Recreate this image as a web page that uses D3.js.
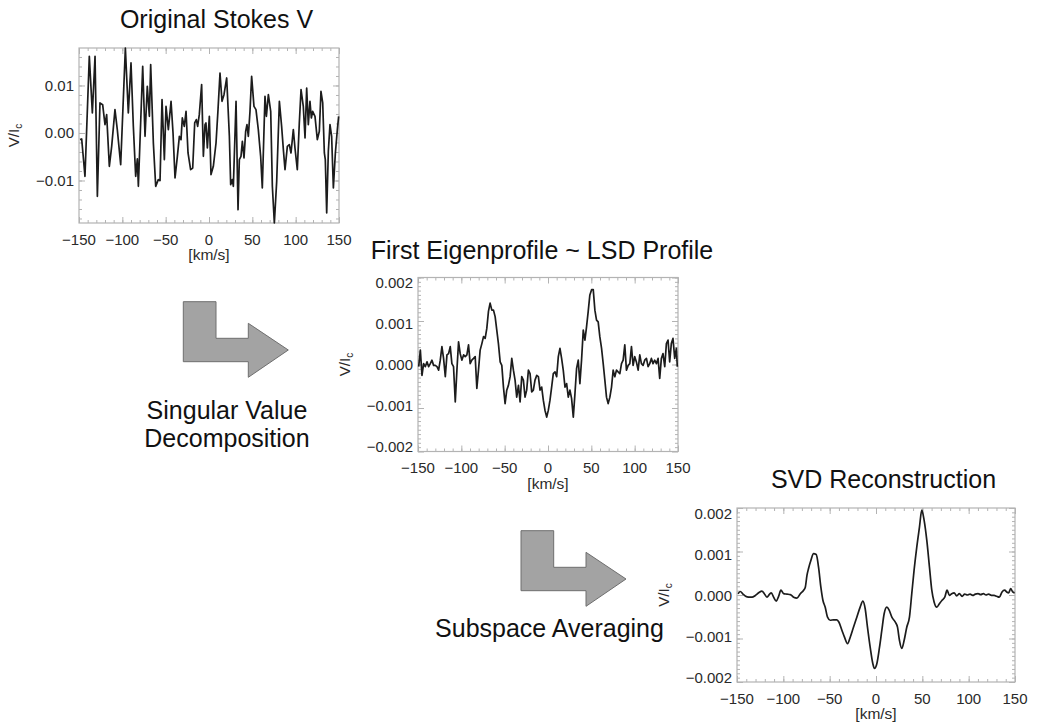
<!DOCTYPE html>
<html>
<head>
<meta charset="utf-8">
<script src="https://cdn.jsdelivr.net/npm/d3@7"></script>
<style>
  html, body { margin: 0; padding: 0; background: #ffffff; }
  svg { display: block; font-family: "Liberation Sans", Arial, Helvetica, sans-serif; }
</style>
</head>
<body>
<svg id="chart" width="1037" height="728"></svg>
<script>
// ---------- data ----------
// Velocity axis shared by all three panels (km/s)
const velocityRange = [-150, 150];
const velocityTicks = [-150, -100, -50, 0, 50, 100, 150];

// Panel 1: original (noisy) Stokes V profile
const stokesVel = [-148.8,-146.9,-143.1,-138.1,-134.6,-131.5,-128.8,-125.8,-122.7,-120.0,-118.1,-115.0,-112.3,-108.5,-105.8,-101.9,-96.5,-93.1,-90.0,-87.3,-84.6,-82.7,-81.5,-76.5,-73.8,-71.2,-68.8,-67.3,-64.2,-61.5,-58.5,-56.5,-54.2,-51.5,-49.6,-46.9,-43.8,-41.5,-39.2,-36.5,-34.2,-32.3,-30.8,-28.5,-26.5,-24.2,-21.2,-18.8,-16.5,-14.6,-13.1,-11.2,-8.5,-6.5,-4.6,-3.5,-1.9,0.4,2.3,5.0,8.1,10.4,12.7,15.0,17.3,20.4,23.5,25.0,26.9,28.1,31.2,33.5,35.0,36.9,38.5,40.4,42.3,43.8,45.4,47.3,49.2,51.9,54.2,56.9,59.6,61.5,64.6,66.2,68.5,71.2,73.1,75.4,78.1,81.2,83.8,85.8,87.7,90.4,92.7,94.6,97.3,99.2,101.9,104.2,106.2,108.8,110.8,112.7,114.6,116.5,118.1,119.6,122.3,125.0,127.3,129.2,131.2,133.1,134.2,135.8,137.7,139.6,141.5,143.5,145.8,148.1,149.6];
const stokesV = [-1.40e-3,-1.26e-3,-9.12e-3,16.14e-3,4.21e-3,16.14e-3,-13.33e-3,6.32e-3,5.96e-3,1.75e-3,3.86e-3,-7.02e-3,-2.81e-3,4.91e-3,0.70e-3,-6.67e-3,17.89e-3,4.21e-3,14.74e-3,1.40e-3,-9.12e-3,-5.47e-3,-11.23e-3,14.04e-3,-0.70e-3,9.82e-3,3.51e-3,14.39e-3,-2.11e-3,-11.23e-3,-9.82e-3,-10.04e-3,7.02e-3,-5.61e-3,5.61e-3,0.70e-3,6.67e-3,0,-9.47e-3,-4.91e-3,-0.70e-3,-1.40e-3,3.16e-3,1.40e-3,4.56e-3,-4.21e-3,-7.72e-3,-7.37e-3,2.11e-3,2.81e-3,1.40e-3,3.86e-3,10.18e-3,-4.91e-3,1.75e-3,2.11e-3,-3.16e-3,3.51e-3,-8.77e-3,-7.02e-3,-2.11e-3,4.91e-3,12.63e-3,6.67e-3,8.07e-3,11.58e-3,-0.70e-3,-10.88e-3,-9.82e-3,-11.23e-3,6.67e-3,-16.14e-3,-5.61e-3,-4.91e-3,-1.75e-3,-5.26e-3,0.35e-3,1.75e-3,-0.70e-3,4.56e-3,11.93e-3,5.61e-3,4.91e-3,0.70e-3,-4.91e-3,-11.58e-3,7.72e-3,3.51e-3,8.07e-3,4.56e-3,-11.23e-3,-18.95e-3,-10.18e-3,6.67e-3,1.40e-3,-3.51e-3,-7.72e-3,-2.81e-3,-2.46e-3,-4.21e-3,0.70e-3,-3.16e-3,-7.72e-3,2.11e-3,9.12e-3,5.61e-3,-1.05e-3,9.47e-3,1.75e-3,6.67e-3,3.16e-3,4.56e-3,3.51e-3,-1.40e-3,0.35e-3,8.77e-3,6.32e-3,-4.21e-3,-5.61e-3,-16.84e-3,-3.86e-3,1.75e-3,-0.70e-3,-11.58e-3,-4.21e-3,0.70e-3,3.51e-3];
const stokesTicks = [-0.01, 0, 0.01];

// Panel 2: first eigenprofile (~ LSD profile)
const eigenVel = [-149.2,-147.3,-145.4,-143.5,-141.6,-139.6,-137.7,-135.8,-133.9,-132.0,-130.1,-128.1,-126.2,-124.3,-122.4,-120.5,-118.5,-116.6,-114.7,-112.8,-110.9,-109.0,-107.0,-105.1,-103.2,-101.3,-99.4,-97.4,-95.5,-93.6,-91.7,-89.8,-87.9,-85.9,-84.0,-82.1,-80.2,-78.3,-76.3,-74.4,-72.5,-70.6,-68.7,-66.8,-64.8,-62.9,-61.0,-59.1,-57.2,-55.2,-53.3,-51.4,-49.5,-47.6,-45.7,-43.7,-41.8,-39.9,-38.0,-36.1,-34.1,-32.2,-30.3,-28.4,-26.5,-24.6,-22.6,-20.7,-18.8,-16.9,-15.0,-13.0,-11.1,-9.2,-7.3,-5.4,-3.5,-1.5,0.4,2.3,4.2,6.1,8.1,10.0,11.9,13.8,15.7,17.6,19.6,21.5,23.4,25.3,27.2,29.2,31.1,33.0,34.9,36.8,38.7,40.7,42.6,44.5,46.4,48.3,50.3,52.2,54.1,56.0,57.9,59.8,61.8,63.7,65.6,67.5,69.4,71.4,73.3,75.2,77.1,79.0,80.9,82.9,84.8,86.7,88.6,90.5,92.5,94.4,96.3,98.2,100.1,102.0,104.0,105.9,107.8,109.7,111.6,113.6,115.5,117.4,119.3,121.2,123.1,125.1,127.0,128.9,130.8,132.7,134.7,136.6,138.5,140.4,142.3,144.2,146.2,148.1,149.2];
const eigenV = [-0.05e-3,0.33e-3,-0.25e-3,0.02e-3,-0.05e-3,0.06e-3,-0.05e-3,0.02e-3,0.10e-3,-0.02e-3,
  -0.02e-3,-0.05e-3,-0.13e-3,0.10e-3,0.41e-3,0.14e-3,-0.28e-3,0.22e-3,0.25e-3,0.41e-3,
  0.02e-3,-0.05e-3,-0.86e-3,-0.13e-3,0.52e-3,0.25e-3,0.10e-3,0.22e-3,0.18e-3,0.22e-3,
  0.45e-3,0.02e-3,0.10e-3,0.14e-3,0.18e-3,-0.55e-3,-0.13e-3,0.33e-3,0.48e-3,0.64e-3,
  0.60e-3,0.83e-3,1.22e-3,1.41e-3,1.25e-3,1.25e-3,1.10e-3,0.79e-3,0.48e-3,0.06e-3,
  -0.02e-3,-0.52e-3,-0.90e-3,-0.59e-3,-0.48e-3,-0.28e-3,0.14e-3,-0.13e-3,-0.36e-3,-0.75e-3,
  -0.48e-3,-0.86e-3,-0.28e-3,-0.36e-3,-0.75e-3,-0.59e-3,-0.13e-3,-0.21e-3,-0.63e-3,-0.59e-3,
  -0.36e-3,-0.25e-3,-0.28e-3,-0.59e-3,-0.52e-3,-0.82e-3,-1.05e-3,-1.21e-3,-1.05e-3,-0.82e-3,
  -0.52e-3,-0.21e-3,-0.17e-3,-0.28e-3,0.18e-3,0.37e-3,0.14e-3,-0.13e-3,-0.52e-3,-0.44e-3,
  -0.75e-3,-0.59e-3,-0.78e-3,-1.21e-3,-0.67e-3,-0.09e-3,0.10e-3,-0.44e-3,0.10e-3,0.79e-3,
  0.56e-3,0.87e-3,1.22e-3,1.60e-3,1.72e-3,1.72e-3,1.25e-3,1.02e-3,0.98e-3,0.64e-3,
  0.37e-3,0.02e-3,-0.36e-3,-0.75e-3,-0.90e-3,-0.75e-3,-0.52e-3,-0.13e-3,-0.28e-3,-0.13e-3,
  -0.17e-3,-0.21e-3,0.02e-3,0.10e-3,0.45e-3,-0.13e-3,-0.02e-3,0.02e-3,0.41e-3,-0.02e-3,
  0.18e-3,0.06e-3,-0.13e-3,0.22e-3,0.02e-3,-0.02e-3,0.10e-3,0.14e-3,-0.05e-3,0.02e-3,
  0.14e-3,0.02e-3,0.10e-3,0.02e-3,0.14e-3,-0.32e-3,0.14e-3,0.25e-3,-0.05e-3,0.48e-3,
  0.56e-3,0.06e-3,0.48e-3,0.60e-3,0.14e-3,0.37e-3,-0.05e-3];

// Panel 3: SVD reconstruction
const svdVel = [-148.9,-146.4,-143.5,-140.7,-137.4,-133.8,-130.2,-126.6,-123.1,-120.5,-117.7,-114.8,-113.0,-110.5,-107.6,-105.1,-102.6,-99.7,-96.1,-92.5,-88.9,-85.3,-81.7,-78.1,-76.3,-74.5,-72.8,-70.2,-67.4,-64.5,-62.0,-59.5,-57.3,-54.8,-52.3,-49.4,-45.8,-42.2,-40.1,-36.8,-34.0,-30.7,-27.8,-24.3,-20.7,-17.1,-14.2,-11.7,-9.2,-6.3,-3.4,-1.6,0.9,3.8,6.3,8.8,11.7,14.2,17.1,20.7,23.2,25.3,27.8,30.4,33.2,36.1,38.6,41.1,44.0,46.9,49.4,51.9,54.8,57.7,60.2,62.7,65.6,68.4,71.3,74.2,76.7,79.2,81.7,84.3,87.1,90.0,92.9,95.7,98.6,101.5,104.4,107.2,110.1,113.0,115.9,118.7,121.6,124.5,127.4,130.2,133.1,136.0,138.9,141.0,143.2,145.3,147.5,149.6];
const svdV = [0.03e-3,0.08e-3,0.02e-3,-0.03e-3,-0.05e-3,-0.05e-3,-0.01e-3,0.05e-3,0.09e-3,0.03e-3,-0.05e-3,0.02e-3,0.05e-3,-0.05e-3,-0.14e-3,-0.03e-3,0.11e-3,0.03e-3,0.02e-3,0.01e-3,-0.05e-3,-0.07e-3,0.03e-3,0.11e-3,0.18e-3,0.45e-3,0.61e-3,0.80e-3,0.95e-3,0.93e-3,0.64e-3,0.18e-3,-0.12e-3,-0.28e-3,-0.51e-3,-0.58e-3,-0.57e-3,-0.57e-3,-0.62e-3,-0.81e-3,-0.97e-3,-1.12e-3,-0.97e-3,-0.74e-3,-0.51e-3,-0.28e-3,-0.14e-3,-0.31e-3,-0.74e-3,-1.20e-3,-1.58e-3,-1.69e-3,-1.58e-3,-1.20e-3,-0.81e-3,-0.43e-3,-0.28e-3,-0.35e-3,-0.51e-3,-0.62e-3,-0.74e-3,-1.04e-3,-1.23e-3,-1.04e-3,-0.74e-3,-0.51e-3,0.03e-3,0.57e-3,1.10e-3,1.56e-3,1.95e-3,1.72e-3,1.26e-3,0.64e-3,0.11e-3,-0.16e-3,-0.28e-3,-0.20e-3,-0.12e-3,-0.05e-3,0.11e-3,-0.01e-3,0.03e-3,0.05e-3,-0.02e-3,0.03e-3,-0.03e-3,0.02e-3,0,0.02e-3,-0.01e-3,0.02e-3,0.03e-3,0.01e-3,0.03e-3,0,0.02e-3,-0.01e-3,-0.01e-3,-0.03e-3,-0.05e-3,0.07e-3,0.11e-3,0.07e-3,0.05e-3,0.15e-3,0.07e-3,0.05e-3];

const lsdRange = [-0.002, 0.002];
const lsdTicks = [-0.002, -0.001, 0, 0.001, 0.002];

// ---------- drawing ----------
const svg = d3.select("#chart");
const frameColor = "#b3b3b3";
const lineColor = "#1c1c1c";
const textColor = "#2a2a2a";

function drawPanel(p) {
  const g = svg.append("g");
  const x = d3.scaleLinear().domain(velocityRange).range([p.left, p.right]);
  const y = d3.scaleLinear().domain(p.yDomain).range([p.bottom, p.top]);

  // tick marks on all four sides, pointing inward
  const xMinor = d3.range(velocityRange[0], velocityRange[1] + 1, 10);
  const yMinor = d3.range(p.yDomain[0] - (p.yDomain[0] % p.yMinorStep), p.yDomain[1] + p.yMinorStep / 2, p.yMinorStep)
    .filter(v => v >= p.yDomain[0] - 1e-12 && v <= p.yDomain[1] + 1e-12);

  function tickSet(axisFn, scale, values, size, tx, ty) {
    g.append("g")
      .attr("transform", `translate(${tx},${ty})`)
      .call(axisFn(scale).tickValues(values).tickSize(-size).tickSizeOuter(0).tickFormat(""))
      .call(s => s.select(".domain").remove())
      .call(s => s.selectAll("line").attr("stroke", frameColor).attr("stroke-width", 1));
  }
  [[xMinor, 3], [velocityTicks, 6]].forEach(([vals, len]) => {
    tickSet(d3.axisBottom, x, vals, len, 0, p.bottom);
    tickSet(d3.axisTop, x, vals, len, 0, p.top);
  });
  [[yMinor, 3], [p.yTicks, 6]].forEach(([vals, len]) => {
    tickSet(d3.axisLeft, y, vals, len, p.left, 0);
    tickSet(d3.axisRight, y, vals, len, p.right, 0);
  });

  // plot frame
  g.append("rect")
    .attr("x", p.left).attr("y", p.top)
    .attr("width", p.right - p.left).attr("height", p.bottom - p.top)
    .attr("fill", "none").attr("stroke", frameColor).attr("stroke-width", 1.2);

  // tick labels
  g.append("g").selectAll("text").data(velocityTicks).join("text")
    .attr("x", d => x(d)).attr("y", p.bottom + 21.5)
    .attr("text-anchor", "middle")
    .attr("font-size", 15).attr("fill", textColor)
    .text(d3.format("d"));

  const labelY = y.copy().range([p.bottom - p.labelInset[1], p.top + p.labelInset[0]]);
  g.append("g").selectAll("text").data(p.yTicks).join("text")
    .attr("x", p.left - 5).attr("y", d => labelY(d))
    .attr("dy", "0.36em")
    .attr("text-anchor", "end")
    .attr("font-size", 15).attr("fill", textColor)
    .text(d3.format(p.yFormat));

  // axis titles
  g.append("text")
    .attr("x", (p.left + p.right) / 2).attr("y", p.bottom + 37)
    .attr("text-anchor", "middle").attr("font-size", 15.5).attr("fill", textColor)
    .text("[km/s]");

  const yt = g.append("text")
    .attr("transform", `translate(${p.yTitleX},${(p.top + p.bottom) / 2}) rotate(-90)`)
    .attr("text-anchor", "middle").attr("font-size", 15).attr("fill", textColor);
  yt.append("tspan").text("V/I");
  yt.append("tspan").attr("font-size", 10).attr("dy", 3).text("c");

  // panel title
  g.append("text")
    .attr("x", p.titleX).attr("y", p.titleY)
    .attr("text-anchor", "middle").attr("font-size", 25).attr("fill", "#111")
    .text(p.title);

  // the profile itself
  const pts = p.vel.map((v, i) => [v, p.val[i]]);
  g.append("path")
    .datum(pts)
    .attr("fill", "none")
    .attr("stroke", lineColor)
    .attr("stroke-width", 1.7)
    .attr("stroke-linejoin", "round")
    .attr("d", d3.line().x(d => x(d[0])).y(d => y(d[1])).curve(p.curve || d3.curveLinear));
}

drawPanel({
  left: 79, right: 339, top: 48, bottom: 223,
  vel: stokesVel, val: stokesV,
  yDomain: d3.extent(stokesV), yTicks: stokesTicks, yMinorStep: 0.002, yFormat: ".2f",
  labelInset: [0, 0],
  yTitleX: 19, title: "Original Stokes V", titleX: 216.5, titleY: 27.5
});

drawPanel({
  left: 418, right: 678, top: 277.5, bottom: 451.5,
  vel: eigenVel, val: eigenV,
  yDomain: lsdRange, yTicks: lsdTicks, yMinorStep: 0.0001, yFormat: ".3f",
  labelInset: [5.5, 4.5],
  yTitleX: 350, title: "First Eigenprofile ~ LSD Profile", titleX: 542, titleY: 258.5
});

drawPanel({
  left: 737, right: 1015, top: 508, bottom: 682,
  vel: svdVel, val: svdV,
  yDomain: lsdRange, yTicks: lsdTicks, yMinorStep: 0.0001, yFormat: ".3f",
  labelInset: [5.5, 4.5],
  yTitleX: 669, title: "SVD Reconstruction", titleX: 883.5, titleY: 487.5,
  curve: d3.curveMonotoneX
});

// ---------- process arrows and captions ----------
const arrowShape = [[0, 0], [32.7, 0], [32.7, 36.6], [65, 36.6], [65, 21.6], [105, 48.3], [65, 75.6], [65, 60], [0, 60]];
function drawArrow(ox, oy) {
  svg.append("polygon")
    .attr("points", arrowShape.map(([a, b]) => `${ox + a},${oy + b}`).join(" "))
    .attr("fill", "#a3a3a3")
    .attr("stroke", "#6e6e6e")
    .attr("stroke-width", 1);
}
drawArrow(183.3, 301.7);
drawArrow(521, 530.7);

function caption(lines, cx, y0, lh) {
  const t = svg.append("text").attr("text-anchor", "middle").attr("font-size", 25).attr("fill", "#111");
  lines.forEach((s, i) => t.append("tspan").attr("x", cx).attr("y", y0 + i * lh).text(s));
}
caption(["Singular Value", "Decomposition"], 227, 419, 27.5);
caption(["Subspace Averaging"], 549.5, 637, 0);
</script>
</body>
</html>
